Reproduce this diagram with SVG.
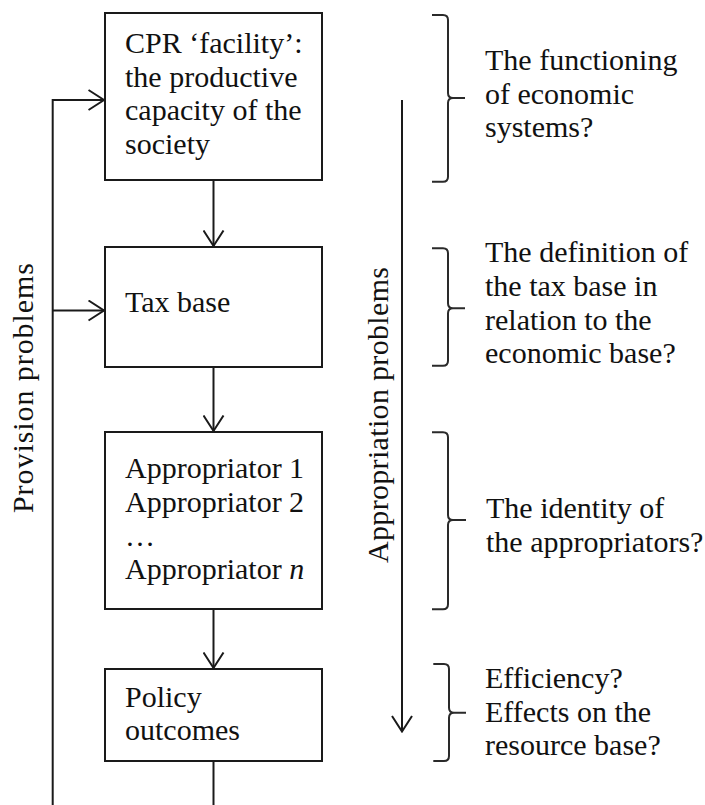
<svg xmlns="http://www.w3.org/2000/svg" width="705" height="805" viewBox="0 0 705 805">
  <style>
    .box { fill: #ffffff; stroke: #1a1a1a; stroke-width: 2; }
    .t { font-family: "Liberation Serif", "Times New Roman", serif; font-size: 30px; fill: #111111; }
    .line { fill: none; stroke: #1a1a1a; stroke-width: 2; }
    .brace { fill: none; stroke: #2a2a2a; stroke-width: 2; stroke-linejoin: round; }
  </style>
  <defs>
    <marker id="open" markerUnits="userSpaceOnUse" viewBox="0 0 18 22" markerWidth="18" markerHeight="22" refX="16.5" refY="11" orient="auto">
      <path d="M1,1 L16.5,11 L1,21" fill="none" stroke="#1a1a1a" stroke-width="2"/>
    </marker>
  </defs>
  <rect width="705" height="805" fill="#ffffff"/>

  <g id="connectors">
    <line class="line" x1="213.5" y1="180" x2="213.5" y2="246" marker-end="url(#open)"/>
    <line class="line" x1="213.5" y1="367" x2="213.5" y2="431" marker-end="url(#open)"/>
    <line class="line" x1="213.5" y1="609" x2="213.5" y2="668" marker-end="url(#open)"/>
    <line class="line" x1="213.5" y1="761" x2="213.5" y2="805"/>
    <path class="line" d="M52.7,805 V100 H104" marker-end="url(#open)"/>
    <path class="line" d="M52.7,310.5 H104" marker-end="url(#open)"/>
    <line class="line" x1="402" y1="100" x2="402" y2="731.5" marker-end="url(#open)"/>
  </g>

  <g id="node-facility">
    <rect class="box" x="105" y="13" width="217" height="167"/>
    <text class="t" x="125" y="53.3">CPR ‘facility’:</text>
    <text class="t" x="125" y="86.8">the productive</text>
    <text class="t" x="125" y="120.3">capacity of the</text>
    <text class="t" x="125" y="154">society</text>
  </g>

  <g id="node-taxbase">
    <rect class="box" x="105" y="247" width="217" height="120"/>
    <text class="t" x="125" y="311.7">Tax base</text>
  </g>

  <g id="node-appropriators">
    <rect class="box" x="105" y="432" width="217" height="177"/>
    <text class="t" x="125" y="478.3">Appropriator 1</text>
    <text class="t" x="125" y="512">Appropriator 2</text>
    <text class="t" x="125" y="545.5">…</text>
    <text class="t" x="125" y="579">Appropriator <tspan font-style="italic">n</tspan></text>
  </g>

  <g id="node-outcomes">
    <rect class="box" x="105" y="669" width="217" height="92"/>
    <text class="t" x="125" y="706.7">Policy</text>
    <text class="t" x="125" y="740">outcomes</text>
  </g>

  <g id="label-provision">
    <text class="t" transform="translate(33.3,388) rotate(-90)" text-anchor="middle" textLength="250" lengthAdjust="spacing">Provision problems</text>
  </g>

  <g id="label-appropriation">
    <text class="t" transform="translate(387.5,415) rotate(-90)" text-anchor="middle" textLength="296" lengthAdjust="spacing">Appropriation problems</text>
  </g>

  <g id="brackets">
    <path class="brace" d="M432,15 H443 Q448,15 448,20 V93 Q448,98 453,98 H465 M453,98 Q448,98 448,103 V176.7 Q448,181.7 443,181.7 H432"/>
    <path class="brace" d="M432,248.3 H443 Q448,248.3 448,253.3 V303.3 Q448,308.3 453,308.3 H465 M453,308.3 Q448,308.3 448,313.3 V360.7 Q448,365.7 443,365.7 H432"/>
    <path class="brace" d="M432,432.3 H443 Q448,432.3 448,437.3 V515 Q448,520 453,520 H466 M453,520 Q448,520 448,525 V604.3 Q448,609.3 443,609.3 H432"/>
    <path class="brace" d="M433.3,664 H444 Q449,664 449,669 V707.7 Q449,712.7 454,712.7 H466 M454,712.7 Q449,712.7 449,717.7 V756 Q449,761 444,761 H433.3"/>
  </g>

  <g id="q-economic">
    <text class="t" x="485" y="70">The functioning</text>
    <text class="t" x="485" y="103.5">of economic</text>
    <text class="t" x="485" y="137">systems?</text>
  </g>
  <g id="q-taxbase">
    <text class="t" x="485" y="261.7">The definition of</text>
    <text class="t" x="485" y="295.5">the tax base in</text>
    <text class="t" x="485" y="329.5">relation to the</text>
    <text class="t" x="485" y="363.3">economic base?</text>
  </g>
  <g id="q-identity">
    <text class="t" x="486" y="518.3">The identity of</text>
    <text class="t" x="486" y="551.7">the appropriators?</text>
  </g>
  <g id="q-efficiency">
    <text class="t" x="485" y="688.3">Efficiency?</text>
    <text class="t" x="485" y="721.7">Effects on the</text>
    <text class="t" x="485" y="755">resource base?</text>
  </g>
</svg>
